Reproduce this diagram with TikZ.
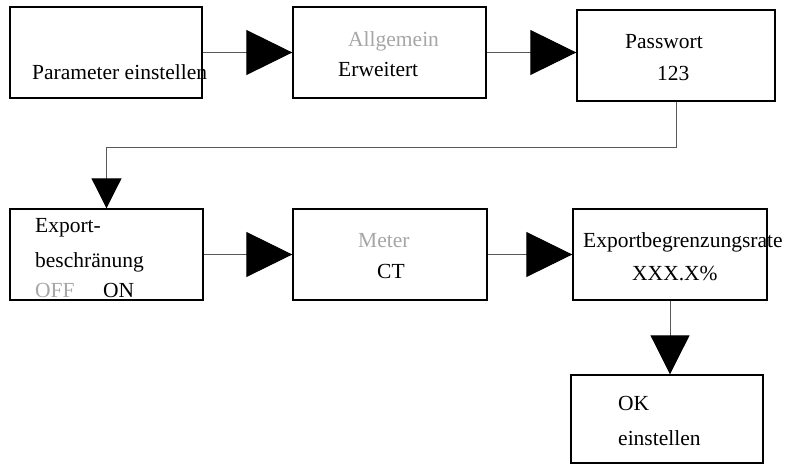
\documentclass[tikz,border=0pt]{standalone}
\usepackage{fontspec}
\setmainfont{Liberation Serif}
\usepackage{tikz}
\usetikzlibrary{arrows.meta,positioning,calc}
\tikzset{
  box/.style   = {draw, line width=1.4pt, rectangle, inner sep=0pt},
  txt/.style   = {anchor=base west, inner sep=0pt},
  dim/.style   = {txt, text=black!35},
  link/.style  = {draw=black!65, line width=1pt},
  bigtip/.style  = {-{Triangle[length=46pt, width=45pt, color=black]}},
  midtip/.style  = {-{Triangle[length=39pt, width=39pt, color=black]}},
  smalltip/.style= {-{Triangle[length=30pt, width=30pt, color=black]}},
  every node/.style = {font=\fontsize{21.5}{26}\selectfont}
}

\begin{document}
\begin{tikzpicture}[x=1pt, y=-1pt]  % pixel grid of the reference, y downwards
  \useasboundingbox (0,0) rectangle (786,465);

  %  --  Boxes: name / centre x / centre y / width / height
  \foreach \n/\x/\y/\w/\h in {1/106/52.5/192/91, 2/389.5/52.5/193/91, 3/676/55.5/198/91,
                              4/106.5/254.5/193/91, 5/390/254.5/194/91, 6/670/254.5/194/91,
                              7/667/419/192/88}{
    \node[box, minimum width=\w pt, minimum height=\h pt] (b\n) at (\x,\y) {};
  }

  %  --  Texts (baseline left)
  \node[txt] (t1a) at (32,80)  {Parameter einstellen};
  \node[dim] (t2a) at (348,47) {Allgemein};
  \node[txt] (t2b) at (338,77) {Erweitert};
  \node[txt] (t3a) at (625,49) {Passwort};
  \node[txt] (t3b) at (657,81) {123};
  \node[txt] (t4a) at (35,232) {Export-};
  \node[txt] (t4b) at (35,267) {beschränung};
  \node[dim] (t4c) at (35,297) {OFF};
  \node[txt] (t4d) at (103,297) {ON};
  \node[dim] (t5a) at (358,247) {Meter};
  \node[txt] (t5b) at (377,278) {CT};
  \node[txt] (t6a) at (583,247) {Exportbegrenzungsrate};
  \node[txt] (t6b) at (632,280) {XXX.X\%};
  \node[txt] (t7a) at (618,410) {OK};
  \node[txt] (t7b) at (618,445) {einstellen};

  %  --  Connectors
  \coordinate (turn) at (0,148);
  \draw[link, bigtip] (b1.east) -- (b2.west);
  \draw[link, bigtip] (b2.east) -- (b2.east -| b3.west);
  \draw[link, smalltip] (b3.south) -- (b3.south |- turn) -| (b4.north);
  \draw[link, bigtip] (b4.east) -- (b5.west);
  \draw[link, bigtip] (b5.east) -- (b6.west);
  \draw[link, midtip] (b6.south) -- (b6.south |- b7.north);
\end{tikzpicture}
\end{document}
